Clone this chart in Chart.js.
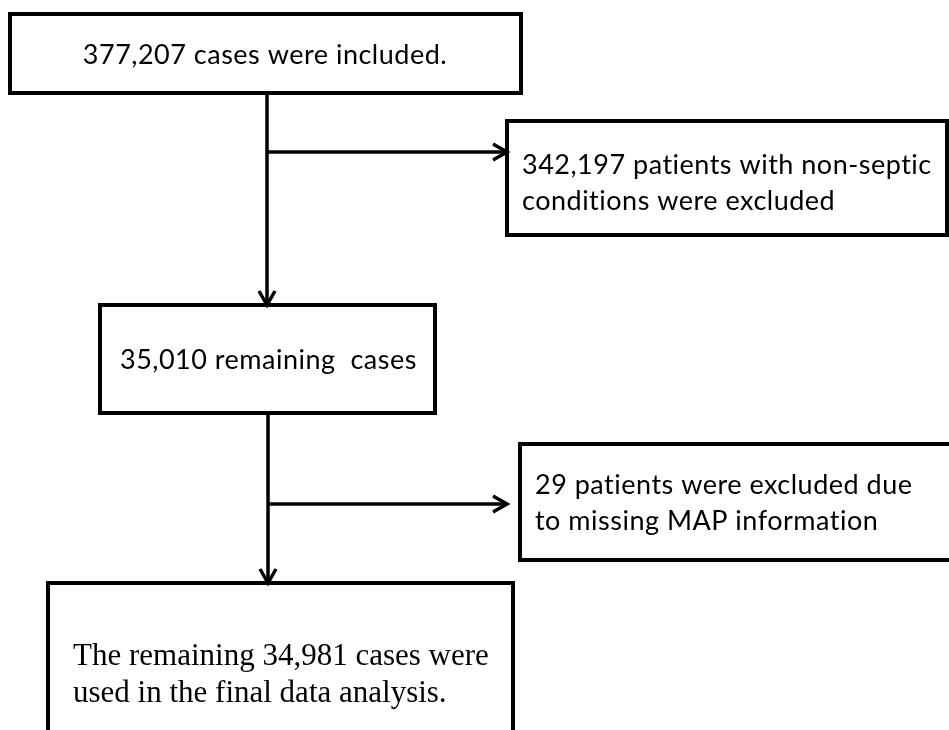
<!DOCTYPE html>
<html>
<head>
<meta charset="utf-8">
<script src="https://cdn.jsdelivr.net/npm/chart.js@4.4.1/dist/chart.umd.min.js"></script>
<style>
  html, body { margin: 0; padding: 0; background: #fff; }
  #wrap { width: 949px; height: 730px; }
</style>
</head>
<body>
<div id="wrap"><canvas id="flowChart" width="949" height="730"></canvas></div>
<script>
// counts at each step of the flow
const stepCounts = [377207, 342197, 35010, 29, 34981];
const stepLines = [
    ['{n} cases were included.'],
    ['{n} patients with non-septic', 'conditions were excluded'],
    ['{n} remaining  cases'],
    ['{n} patients were excluded due', 'to missing MAP information'],
    ['The remaining {n} cases were', 'used in the final data analysis.']
];
const stepFonts = ['sans', 'sans', 'sans', 'sans', 'serif'];

// box geometry, in the same units as the (hidden) axes
const layout = {
    boxes: [
        { x0: 10,  y0: 14,  x1: 521, y1: 93,  tx: 265, align: 'center', base: [64] },
        { x0: 507, y0: 121, x1: 947, y1: 235, tx: 522, align: 'left',   base: [174, 210] },
        { x0: 100, y0: 305, x1: 435, y1: 413, tx: 120, align: 'left',   base: [369] },
        { x0: 520, y0: 444, x1: 960, y1: 560, tx: 535, align: 'left',   base: [494, 530] },
        { x0: 48,  y0: 583, x1: 513, y1: 745, tx: 73,  align: 'left',   base: [665, 702] }
    ],
    links: [
        { from: [267, 93],  to: [267, 305] },
        { from: [267, 152], to: [507, 152] },
        { from: [268, 413], to: [268, 583] },
        { from: [268, 504], to: [507, 504] }
    ]
};

const fonts = {
    sans:  { font: '27px Lato', spacing: '0.5px' },
    serif: { font: '31px "Liberation Serif", "Times New Roman", serif', spacing: '0px' }
};

function stepText(i) {
    const n = stepCounts[i].toLocaleString('en-US');
    return stepLines[i].map(l => l.replace('{n}', n));
}

// draws the boxes, text and arrows using the chart's scales
const flowPlugin = {
    id: 'flow',
    afterDatasetsDraw(chart) {
        const ctx = chart.ctx;
        const xs = chart.scales.x;
        const ys = chart.scales.y;
        const px = v => xs.getPixelForValue(v);
        const py = v => ys.getPixelForValue(v);

        ctx.save();
        ctx.strokeStyle = '#000';
        ctx.fillStyle = '#000';

        // boxes
        layout.boxes.forEach((b, i) => {
            ctx.lineWidth = 4;
            ctx.strokeRect(px(b.x0), py(b.y0), px(b.x1) - px(b.x0), py(b.y1) - py(b.y0));
            const f = fonts[stepFonts[i]];
            ctx.font = f.font;
            ctx.letterSpacing = f.spacing;
            ctx.textAlign = b.align;
            ctx.textBaseline = 'alphabetic';
            stepText(i).forEach((line, j) => {
                ctx.fillText(line, px(b.tx), py(b.base[j]));
            });
        });
        ctx.letterSpacing = '0px';

        // arrows
        ctx.lineWidth = 3.5;
        ctx.lineCap = 'butt';
        layout.links.forEach(l => {
            const x0 = px(l.from[0]), y0 = py(l.from[1]);
            const x1 = px(l.to[0]), y1 = py(l.to[1]);
            ctx.beginPath();
            ctx.moveTo(x0, y0);
            ctx.lineTo(x1, y1);
            ctx.stroke();

            const ang = Math.atan2(y1 - y0, x1 - x0);
            const len = 14, half = 8;
            const bx = x1 - Math.cos(ang) * len;
            const by = y1 - Math.sin(ang) * len;
            const nx = -Math.sin(ang) * half;
            const ny = Math.cos(ang) * half;
            ctx.beginPath();
            ctx.moveTo(bx + nx, by + ny);
            ctx.lineTo(x1, y1);
            ctx.lineTo(bx - nx, by - ny);
            ctx.stroke();
        });
        ctx.restore();
    }
};

new Chart(document.getElementById('flowChart'), {
    type: 'scatter',
    data: {
        datasets: [{
            data: layout.boxes.map(b => ({ x: (b.x0 + b.x1) / 2, y: (b.y0 + b.y1) / 2 })),
            pointRadius: 0,
            pointHoverRadius: 0
        }]
    },
    options: {
        responsive: false,
        animation: false,
        layout: { padding: 0 },
        plugins: {
            legend: { display: false },
            tooltip: { enabled: false }
        },
        scales: {
            x: { type: 'linear', min: 0, max: 949, display: false },
            y: { type: 'linear', min: 0, max: 730, reverse: true, display: false }
        }
    },
    plugins: [flowPlugin]
});
</script>
</body>
</html>
